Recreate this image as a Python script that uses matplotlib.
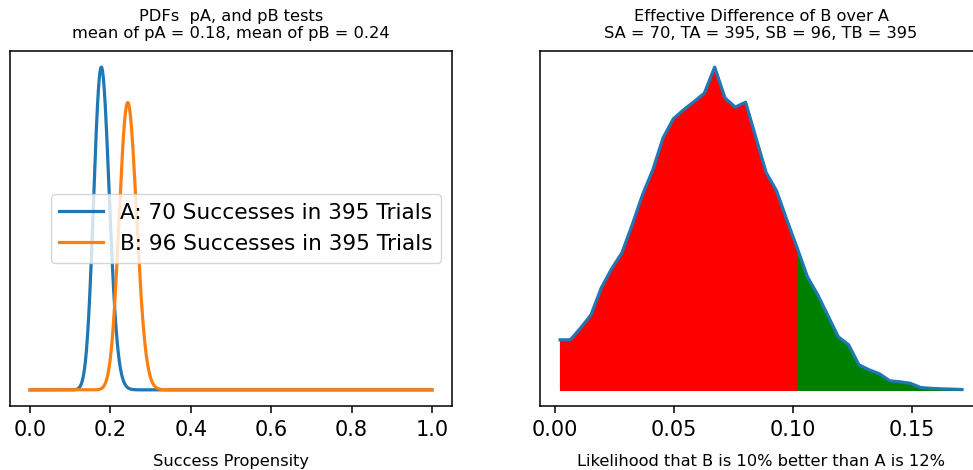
import math
import numpy as np
import matplotlib
matplotlib.use("Agg")
import matplotlib.pyplot as plt

# test results
successes = [70, 96]
trials = [395, 395]
labels = ["A: 70 Successes in 395 Trials", "B: 96 Successes in 395 Trials"]

# histogram of the effective difference of B over A
diff_x = np.linspace(0.0021, 0.1710, 40)
diff_y = [50, 50, 62, 75, 102, 121, 137, 165, 195, 220,
          252, 271, 280, 288, 296.5, 322.5, 291.7, 282.5, 287.5, 252,
          217, 199, 170, 142, 113, 95, 74, 53, 45, 25,
          20, 16, 9, 8, 6.5, 2.3, 1.5, 1.0, 0.7, 0.3]
better = 0.10


# beta pdf of the success propensity
def beta_pdf(x, a, b):
    lbeta = math.lgamma(a) + math.lgamma(b) - math.lgamma(a + b)
    with np.errstate(divide='ignore'):
        logp = (a - 1) * np.log(x) + (b - 1) * np.log(1 - x) - lbeta
    return np.exp(logp)


fig = plt.figure(figsize=(9.73, 4.70), dpi=100)
ax1 = fig.add_axes([0.01028, 0.1362, 0.4543, 0.7553])
ax2 = fig.add_axes([0.555, 0.1362, 0.4543, 0.7553])

# left: pdfs of pA and pB
p = np.linspace(0, 1, 2001)
for s, t, lab in zip(successes, trials, labels):
    ax1.plot(p, beta_pdf(p, s + 1, t - s + 1), lw=2.3, label=lab)
ax1.set_yticks([])
ax1.set_title("PDFs  pA, and pB tests\nmean of pA = %.2f, mean of pB = %.2f"
              % (successes[0] / trials[0], successes[1] / trials[1]),
              fontsize=11.7, pad=9)
ax1.set_xlabel("Success Propensity", fontsize=11.7, labelpad=10)
ax1.tick_params(labelsize=15, length=5, width=1.1, pad=5)
ax1.legend(loc="center right", fontsize=15.6)

# right: effective difference, split at the 10% mark
diff_x = np.asarray(diff_x)
diff_y = np.asarray(diff_y)
split = diff_x[np.argmin(np.abs(diff_x - better))]
ax2.fill_between(diff_x, diff_y, where=diff_x <= split, color="red")
ax2.fill_between(diff_x, diff_y, where=diff_x >= split, color="green")
ax2.plot(diff_x, diff_y, lw=2.3)
ax2.set_yticks([])
ax2.set_title("Effective Difference of B over A\nSA = %d, TA = %d, SB = %d, TB = %d"
              % (successes[0], trials[0], successes[1], trials[1]),
              fontsize=11.7, pad=9)
ax2.set_xlabel("Likelihood that B is 10% better than A is 12%", fontsize=11.7, labelpad=10)
ax2.tick_params(labelsize=15, length=5, width=1.1, pad=5)

for ax in (ax1, ax2):
    for sp in ax.spines.values():
        sp.set_linewidth(1.1)

fig.savefig("out.png", dpi=100)
